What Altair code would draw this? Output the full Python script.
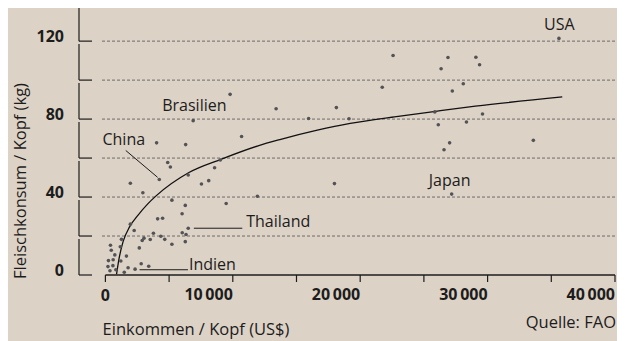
import altair as alt
import pandas as pd

# ---- data ----
income = [35600, 22580, 26890, 29080, 26350, 29370, 28090, 27230, 21730, 18130,
          15950, 19120, 25860, 29600, 26130, 28340, 27020, 26580, 33590, 27180,
          17980, 9790, 13400, 6890, 4020, 6300, 10690, 4890, 5100, 4230,
          6500, 9020, 8570, 7540, 8110, 1960, 2940, 5220, 6270, 9480,
          11930, 6020, 4100, 4490, 6500, 6030, 6330, 6270, 1960, 2260,
          3770, 3030, 2890, 3520, 4350, 4660, 5220, 2660, 1260, 400,
          460, 1170, 740, 1650, 240, 610, 1210, 200, 590, 360,
          820, 1480, 1780, 2330, 2810, 3400]
meat = [121.4, 112.6, 111.6, 111.7, 105.8, 107.9, 98.1, 94.4, 96.3, 85.9,
        80.3, 80.2, 83.7, 82.6, 77.1, 78.5, 67.8, 64.3, 69.1, 41.5,
        46.9, 92.7, 85.3, 79.2, 67.8, 66.9, 71.1, 57.7, 55.4, 49.0,
        51.3, 59.0, 55.0, 46.7, 48.4, 47.1, 42.2, 38.4, 35.7, 36.7,
        40.4, 31.4, 28.8, 29.1, 24.0, 21.7, 20.8, 17.1, 26.1, 22.8,
        21.4, 18.9, 17.7, 18.2, 19.9, 18.3, 15.8, 13.9, 18.3, 15.3,
        12.7, 14.5, 10.3, 9.7, 7.4, 7.8, 7.2, 4.3, 4.8, 2.2,
        2.7, 1.4, 3.7, 3.0, 5.8, 4.5]

trend_x = [876, 1078, 1388, 1907, 2550, 3326, 3977, 6558, 9116, 11985,
           13767, 16636, 19217, 22837, 25938, 29039, 35861]
trend_y = [0.4, 8.6, 17.1, 24.8, 30.6, 36.5, 40.6, 52.6, 59.5, 66.3,
           69.6, 74.3, 77.8, 81.3, 84.0, 86.6, 91.4]

ann_text = ["USA", "Brasilien", "China", "Japan", "Thailand", "Indien"]
ann_x = [35628, 6985, 1442, 27023, 11054, 6558]
ann_y = [128.2, 86.9, 69.3, 48.3, 27.1, 4.9]
ann_align = ["center", "center", "center", "center", "left", "left"]

lead_x1 = [1597, 6946, 2682]
lead_y1 = [63.9, 24.0, 2.7]
lead_x2 = [4101, 10745, 6481]
lead_y2 = [50.1, 24.0, 2.7]

x_ticks = [0, 5000, 10000, 15000, 20000, 25000, 30000, 35000, 40000]
x_label_vals = [0, 10000, 20000, 30000, 40000]
x_label_txt = ["0", "10\u2009000", "20\u2009000", "30\u2009000", "40\u2009000"]
y_ticks = [0, 20, 40, 60, 80, 100, 120]
y_label_vals = [0, 40, 80, 120]
grid_vals = [20, 40, 60, 80, 100, 120]

x_title = "Einkommen / Kopf (US$)"
y_title = "Fleischkonsum / Kopf (kg)"
source = "Quelle: FAO"

# ---- styling ----
FONT = "Open Sans"
INK = "#1c1c1c"
W, H = 537, 267
XS = alt.Scale(domain=[-2072, 40079], nice=False, zero=False)
YS = alt.Scale(domain=[0, 137], nice=False, zero=False)


def X(f):
    return alt.X(f"{f}:Q", scale=XS, axis=None)


def Y(f):
    return alt.Y(f"{f}:Q", scale=YS, axis=None)


pts = pd.DataFrame({"inc": income, "meat": meat})
trend = pd.DataFrame({"tx": trend_x, "ty": trend_y})
ann = pd.DataFrame({"t": ann_text, "ax": ann_x, "ay": ann_y, "al": ann_align})
lead = pd.DataFrame({"lx1": lead_x1, "ly1": lead_y1, "lx2": lead_x2, "ly2": lead_y2})
xt = pd.DataFrame({"xt": x_ticks})
xl = pd.DataFrame({"xv": x_label_vals, "xs": x_label_txt})
yt = pd.DataFrame({"yv": y_ticks, "ytop": [v + 18.5 for v in y_ticks]})
yl = pd.DataFrame({"yv": y_label_vals, "ys": [str(v) for v in y_label_vals]})
gr = pd.DataFrame({"gv": grid_vals})
axl = pd.DataFrame({"x0": [min(x_ticks)], "x1": [max(x_ticks)], "y0": [min(y_ticks)]})
one = pd.DataFrame({"k": [0]})

grid = alt.Chart(gr).mark_rule(color="#505050", strokeWidth=0.8, strokeDash=[3, 2]).encode(
    y=Y("gv"), x=alt.value(23), x2=alt.value(536))

y_hticks = alt.Chart(yt).mark_rule(color=INK, strokeWidth=1.2).encode(
    y=Y("yv"), x=alt.value(0), x2=alt.value(13))
y_vsegs = alt.Chart(yt).mark_rule(color=INK, strokeWidth=1.2).encode(
    x=alt.value(0), y=Y("yv"), y2="ytop")
y_labels = alt.Chart(yl).mark_text(font=FONT, fontSize=16, fontWeight="bold", align="right",
                                   baseline="middle", dy=-4, color=INK).encode(
    x=alt.value(-15), y=Y("yv"), text="ys:N")

x_line = alt.Chart(axl).mark_rule(color=INK, strokeWidth=1.5).encode(
    x=X("x0"), x2="x1", y=Y("y0"))
x_tickmarks = alt.Chart(xt).mark_rule(color=INK, strokeWidth=1.2).encode(
    x=X("xt"), y=alt.value(H), y2=alt.value(H + 7))
x_lab0 = alt.Chart(xl).transform_filter("datum.xv == 0").mark_text(
    font=FONT, fontSize=16, fontWeight="bold", align="center", baseline="middle", color=INK).encode(
    x=X("xv"), y=alt.value(H + 21), text="xs:N")
x_labs = alt.Chart(xl).transform_filter("datum.xv > 0").mark_text(
    font=FONT, fontSize=16, fontWeight="bold", align="right", baseline="middle", color=INK).encode(
    x=X("xv"), y=alt.value(H + 20), text="xs:N")

curve = alt.Chart(trend).mark_line(color="#111111", strokeWidth=1.3, interpolate="monotone").encode(
    x=X("tx"), y=Y("ty"), order="tx:Q")
dots = alt.Chart(pts).mark_circle(size=13, color="#515356", opacity=1).encode(
    x=X("inc"), y=Y("meat"))

leaders = alt.Chart(lead).mark_rule(color=INK, strokeWidth=1).encode(
    x=X("lx1"), y=Y("ly1"), x2="lx2", y2="ly2")
ann_c = alt.Chart(ann).transform_filter("datum.al == 'center'").mark_text(
    font=FONT, fontSize=16, align="center", baseline="middle", color=INK).encode(
    x=X("ax"), y=Y("ay"), text="t:N")
ann_l = alt.Chart(ann).transform_filter("datum.al == 'left'").mark_text(
    font=FONT, fontSize=16, align="left", baseline="middle", color=INK).encode(
    x=X("ax"), y=Y("ay"), text="t:N")

xtitle = alt.Chart(one).mark_text(font=FONT, fontSize=16.5, align="center", baseline="middle",
                                  color=INK, text=x_title).encode(
    x=alt.value(117), y=alt.value(322))
ytitle = alt.Chart(one).mark_text(font=FONT, fontSize=16.5, align="center", baseline="middle",
                                  angle=270, color=INK, text=y_title).encode(
    x=alt.value(-58), y=alt.value(173))
src = alt.Chart(one).mark_text(font=FONT, fontSize=16.5, align="right", baseline="middle",
                               color=INK, text=source).encode(
    x=alt.value(537), y=alt.value(315))

chart = alt.layer(
    grid, y_vsegs, y_hticks, y_labels, x_line, x_tickmarks, x_lab0, x_labs,
    curve, dots, leaders, ann_c, ann_l, xtitle, ytitle, src
).properties(
    width=W, height=H,
    autosize=alt.AutoSizeParams(type="none"),
    padding={"left": 71, "top": 0, "right": 1, "bottom": 66},
    background="#ddd2c6",
).configure_view(stroke=None)

chart.save("out.html", embed_options={"renderer": "svg", "actions": False})
